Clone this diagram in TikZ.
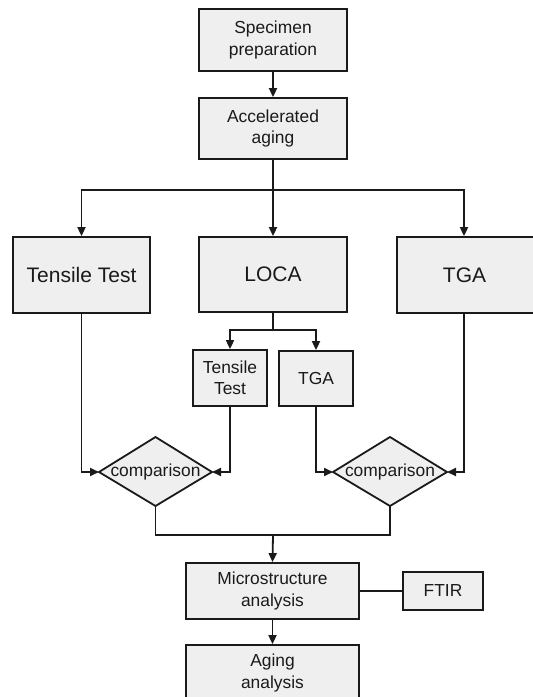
\documentclass[tikz,border=0pt]{standalone}
\usepackage{fontspec}
\setmainfont{Liberation Sans}
\usetikzlibrary{arrows.meta,calc}
\definecolor{boxfill}{HTML}{EFEFEF}
\definecolor{ink}{HTML}{1A1A1A}
\begin{document}
\begin{tikzpicture}[x=1bp,y=-1bp,
  line width=1.8bp, draw=ink,
  box/.style={draw=ink, fill=boxfill, line width=1.8bp, inner sep=0pt, align=center,
    text=ink, font=\fontsize{17.4bp}{21.5bp}\selectfont},
  bigbox/.style={box, font=\fontsize{21bp}{24bp}\selectfont},
  arr/.style={-{Triangle[length=9bp,width=8bp]}},
  lbl/.style={inner sep=0pt, text=ink, font=\fontsize{17.4bp}{21bp}\selectfont}
]
\useasboundingbox (0,0) rectangle (533,697);

% boxes
\node[box, minimum width=148bp, minimum height=62bp] (spec) at (273,40) {Specimen\\preparation};
\node[box, minimum width=148bp, minimum height=61bp] (acc) at (273,128.5) {Accelerated\\aging};
\node[bigbox, minimum width=137bp, minimum height=76bp] (tt) at (81.5,275) {Tensile Test};
\node[bigbox, minimum width=148bp, minimum height=75bp] (loca) at (273,274.5) {LOCA};
\node[bigbox, minimum width=138bp, minimum height=76bp] (tga) at (466,275) {\hspace*{-3bp}TGA};
\node[box, minimum width=74bp, minimum height=56bp] (stt) at (230,378) {Tensile\\Test};
\node[box, minimum width=74bp, minimum height=55bp] (stga) at (316,378.5) {TGA};
\node[box, minimum width=173bp, minimum height=56bp] (micro) at (272.5,591) {Microstructure\\analysis};
\node[box, minimum width=80bp, minimum height=38bp] (ftir) at (443,591) {FTIR};
\node[box, minimum width=173bp, minimum height=56bp] (aging) at (272.5,673) {Aging\\analysis};

% diamonds
\coordinate (c1l) at (99,472);
\coordinate (c1t) at (155.5,437);
\coordinate (c1r) at (212,472);
\coordinate (c1b) at (155.5,506);
\coordinate (c2l) at (333,472);
\coordinate (c2t) at (390,437);
\coordinate (c2r) at (447,472);
\coordinate (c2b) at (390,506);
\draw[fill=boxfill] (c1l) -- (c1t) -- (c1r) -- (c1b) -- cycle;
\draw[fill=boxfill] (c2l) -- (c2t) -- (c2r) -- (c2b) -- cycle;
\node[lbl] (cmp1) at (155.5,472) {comparison};
\node[lbl] (cmp2) at (390,472) {comparison};

% helper coordinates
\coordinate (bus) at (273,190);
\coordinate (tgax) at (464,0);
\coordinate (lb) at (273,330);
\coordinate (bb) at (273,535);

% connectors
\draw[arr] (spec) -- (acc);
\draw (acc.south) -- (bus);
\draw[arr] (bus) -- (loca.north);
\draw[arr] (bus) -| (tt.north);
\draw[arr] (bus) -| (tgax |- tga.north);

\draw (loca.south) -- (lb);
\draw[arr] (lb) -| (stt.north);
\draw[arr] (lb) -| (stga.north);

\draw[arr] (tt.south) |- (c1l);
\draw[arr] (stt.south) |- (c1r);
\draw[arr] (stga.south) |- (c2l);
\draw[arr] (tgax |- tga.south) |- (c2r);

\draw (c1b) |- (bb) -| (c2b);
\draw[arr] (bb) -- (micro.north);
\draw (micro.east) -- (ftir.west);
\draw[arr] (micro.south) -- (aging.north);
\end{tikzpicture}
\end{document}
